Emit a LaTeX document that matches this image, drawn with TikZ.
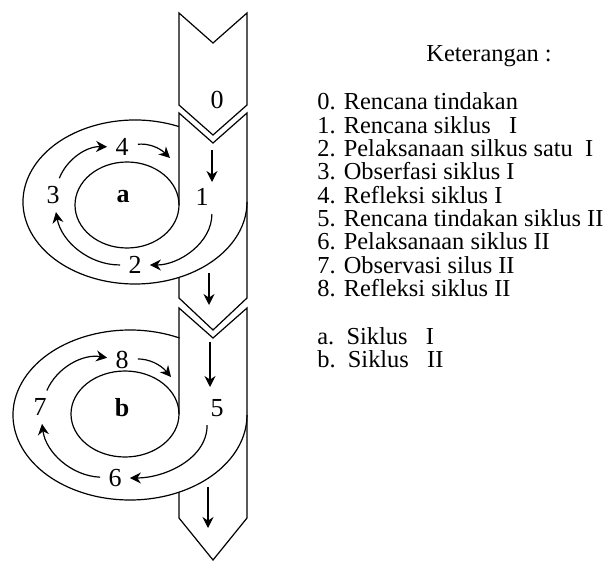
\documentclass[tikz,border=0pt]{standalone}
\usepackage{fontspec}
\setmainfont{Liberation Serif}
\usetikzlibrary{arrows.meta}
\tikzset{
  frame/.style={line width=0.6pt, line join=miter},
  cyc/.style={line width=0.6pt, -{Stealth[length=5.5pt, width=5.5pt]}},
  gap/.style={shorten <=2.5pt, shorten >=2.5pt},
  num/.style={font=\fontsize{13}{15}\selectfont, inner sep=1.5pt},
  legend/.style={font=\fontsize{12.2}{14}\selectfont, anchor=base west, inner sep=0pt},
}

\begin{document}
\begin{tikzpicture}[x=0.5pt, y=0.5pt]
  \useasboundingbox (0,0) rectangle (608,563);

  % Box 0
  \draw[frame] (179,550) -- (213,520) -- (247,550) -- (247,458) -- (213,428) -- (179,458) -- cycle;

  % Box 1 and loop a
  \draw[frame] (179,358) -- (179,450) -- (213,420) -- (247,450) -- (247,265) -- (213,233) -- (179,265) -- (179,286);
  \draw[frame] (127,358) ellipse [x radius=52, y radius=43];
  \draw[frame] (135,361) ++(67:112 and 82) arc[start angle=67, end angle=360, x radius=112, y radius=82];

  % Box 2 and loop b
  \draw[frame] (179,149) -- (179,255) -- (213,225) -- (247,255) -- (247,45) -- (213,3) -- (179,45) -- (179,71);
  \draw[frame] (125,149) ellipse [x radius=54, y radius=43];
  \draw[frame] (130,148) ++(65:117 and 85) arc[start angle=65, end angle=360, x radius=117, y radius=85];

  % Steps
  \node[num] (n0) at (217,463) {0};
  \node[num] (n1) at (202,366) {1};
  \node[num] (n2) at (135,298) {2};
  \node[num] (n3) at (53,368) {3};
  \node[num] (n4) at (122,416) {4};
  \node[num] (n5) at (217,155) {5};
  \node[num] (n6) at (115,85) {6};
  \node[num] (n7) at (40,156) {7};
  \node[num] (n8) at (122,203) {8};
  \node[num, font=\fontsize{13}{15}\selectfont\bfseries] (ca) at (123,366) {a};
  \node[num, font=\fontsize{13}{15}\selectfont\bfseries] (cb) at (122,155) {b};

  % Cycle a
  \coordinate (a4) at (170,405);
  \draw[cyc, gap] (n3) to[bend left=35] (n4);
  \draw[cyc, shorten <=3pt] (n4) to[bend left=25] (a4);
  \draw[cyc, gap] (n1.south east) to[out=-90, in=0] (n2);
  \draw[cyc, gap] (n2) to[bend left=40] (n3);

  % Cycle b
  \coordinate (b8) at (171,186);
  \draw[cyc, gap] (n7) to[bend left=38] (n8);
  \draw[cyc, shorten <=3pt] (n8) to[bend left=25] (b8);
  \draw[cyc, gap] (n5.south west) to[out=-90, in=0] (n6);
  \draw[cyc, gap] (n6) to[bend left=40] (n7);

  % Down arrows
  \coordinate (d1s) at (212,413); \coordinate (d1e) at (212,381);
  \coordinate (d2s) at (209,290); \coordinate (d2e) at (209,258);
  \coordinate (d3s) at (210,221); \coordinate (d3e) at (210,176);
  \coordinate (d4s) at (208,76);  \coordinate (d4e) at (208,35);
  \draw[cyc] (d1s) -- (d1e);
  \draw[cyc] (d2s) -- (d2e);
  \draw[cyc] (d3s) -- (d3e);
  \draw[cyc] (d4s) -- (d4e);

  % Legend
  \node[legend] (ket) at (426,501) {Keterangan :};
  \foreach \txt [count=\i from 0] in {
      0. Rencana tindakan,
      1. Rencana siklus\ \ \ I,
      2. Pelaksanaan silkus satu\ \ I,
      3. Obserfasi siklus I,
      4. Refleksi siklus I,
      5. Rencana tindakan siklus II,
      6. Pelaksanaan siklus II,
      7. Observasi silus II,
      8. Refleksi siklus II}
    \node[legend] (l\i) at (317,453-23.3*\i) {\txt};
  \node[legend] (la) at (317,219) {a.\ \ Siklus\ \ \ I};
  \node[legend] (lb) at (317,196) {b.\ \ Siklus\ \ \ II};
\end{tikzpicture}
\end{document}
